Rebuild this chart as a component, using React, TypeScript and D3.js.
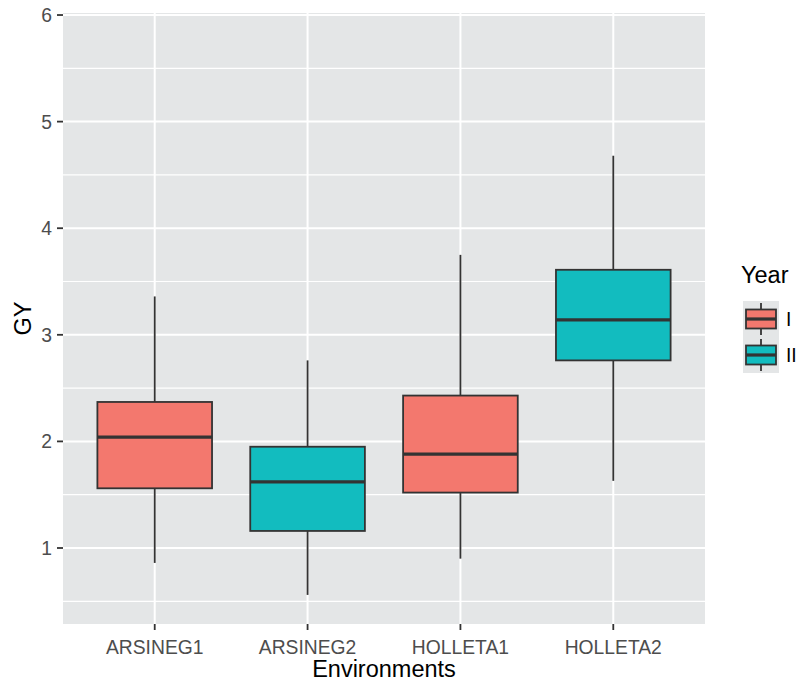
import React from "react";
import * as d3 from "d3";

const categories = ["ARSINEG1", "ARSINEG2", "HOLLETA1", "HOLLETA2"];
const years = ["I", "II", "I", "II"];
const whiskerLow = [0.86, 0.56, 0.9, 1.63];
const q1 = [1.56, 1.16, 1.52, 2.76];
const median = [2.04, 1.62, 1.88, 3.14];
const q3 = [2.37, 1.95, 2.43, 3.61];
const whiskerHigh = [3.36, 2.76, 3.75, 4.68];
const yTicks = [1, 2, 3, 4, 5, 6];
const yMinor = [0.5, 1.5, 2.5, 3.5, 4.5, 5.5];
const legendYears = ["I", "II"];
const yearColors = ["#F3786E", "#12BCBF"];

const W = 798;
const H = 684;
const panel = { left: 63, right: 705, top: 13, bottom: 624 };
const FONT = "'Liberation Sans', Arial, sans-serif";

export default function App() {
  const x = d3
    .scalePoint<string>()
    .domain(categories)
    .range([panel.left, panel.right])
    .padding(0.6);
  const y = d3.scaleLinear().domain([0.287, 6.019]).range([panel.bottom, panel.top]);
  const color = d3.scaleOrdinal<string, string>().domain(legendYears).range(yearColors);
  const boxW = x.step() * 0.75;

  const keyX = 743;
  const keyTop = 301;
  const keySize = 36;

  return (
    <svg
      width={W}
      height={H}
      style={{ position: "absolute", left: 0, top: 0, background: "#fff" }}
      fontFamily={FONT}
    >
      <rect x={0} y={0} width={W} height={H} fill="#fff" />
      <rect
        x={panel.left}
        y={panel.top}
        width={panel.right - panel.left}
        height={panel.bottom - panel.top}
        fill="#E4E6E7"
      />
      {yMinor.map((v) => (
        <line key={"mi" + v} x1={panel.left} x2={panel.right} y1={y(v)} y2={y(v)} stroke="#fff" strokeWidth={1.2} />
      ))}
      {yTicks.map((v) => (
        <line key={"ma" + v} x1={panel.left} x2={panel.right} y1={y(v)} y2={y(v)} stroke="#fff" strokeWidth={2} />
      ))}
      {categories.map((c) => (
        <line key={"vx" + c} x1={x(c)} x2={x(c)} y1={panel.top} y2={panel.bottom} stroke="#fff" strokeWidth={2} />
      ))}

      {categories.map((c, i) => {
        const cx = x(c)!;
        return (
          <g key={"box" + c}>
            <line x1={cx} x2={cx} y1={y(whiskerHigh[i])} y2={y(q3[i])} stroke="#333" strokeWidth={1.8} />
            <line x1={cx} x2={cx} y1={y(q1[i])} y2={y(whiskerLow[i])} stroke="#333" strokeWidth={1.8} />
            <rect
              x={cx - boxW / 2}
              y={y(q3[i])}
              width={boxW}
              height={y(q1[i]) - y(q3[i])}
              fill={color(years[i])}
              stroke="#333"
              strokeWidth={1.8}
            />
            <line
              x1={cx - boxW / 2}
              x2={cx + boxW / 2}
              y1={y(median[i])}
              y2={y(median[i])}
              stroke="#333"
              strokeWidth={3.2}
            />
          </g>
        );
      })}

      {yTicks.map((v) => (
        <g key={"yt" + v}>
          <line x1={panel.left - 6} x2={panel.left} y1={y(v)} y2={y(v)} stroke="#333" strokeWidth={1.8} />
          <text
            x={panel.left - 11}
            y={y(v)}
            dy="0.36em"
            textAnchor="end"
            fontSize={19.3}
            fill="#4D4D4D"
          >
            {v}
          </text>
        </g>
      ))}
      {categories.map((c) => (
        <g key={"xt" + c}>
          <line x1={x(c)} x2={x(c)} y1={panel.bottom} y2={panel.bottom + 6} stroke="#333" strokeWidth={1.8} />
          <text x={x(c)} y={654} textAnchor="middle" fontSize={19.3} fill="#4D4D4D">
            {c}
          </text>
        </g>
      ))}

      <text x={(panel.left + panel.right) / 2} y={677} textAnchor="middle" fontSize={23.5} fill="#000">
        Environments
      </text>
      <text
        transform={`translate(31, ${(panel.top + panel.bottom) / 2}) rotate(-90)`}
        textAnchor="middle"
        fontSize={23.5}
        fill="#000"
      >
        GY
      </text>

      <text x={741} y={283} fontSize={23.5} fill="#000">
        Year
      </text>
      {legendYears.map((yr, i) => {
        const top = keyTop + i * keySize;
        const cx = keyX + keySize / 2;
        return (
          <g key={"lg" + yr}>
            <rect x={keyX} y={top} width={keySize} height={keySize} fill="#E4E6E7" />
            <line x1={cx} x2={cx} y1={top + 2} y2={top + keySize - 2} stroke="#333" strokeWidth={1.8} />
            <rect
              x={keyX + 3}
              y={top + 8.5}
              width={keySize - 6}
              height={keySize - 17}
              fill={color(yr)}
              stroke="#333"
              strokeWidth={1.8}
            />
            <line
              x1={keyX + 3}
              x2={keyX + keySize - 3}
              y1={top + keySize / 2}
              y2={top + keySize / 2}
              stroke="#333"
              strokeWidth={3.2}
            />
            <text x={786} y={top + keySize / 2} dy="0.36em" fontSize={19.3} fill="#000">
              {yr}
            </text>
          </g>
        );
      })}
    </svg>
  );
}
